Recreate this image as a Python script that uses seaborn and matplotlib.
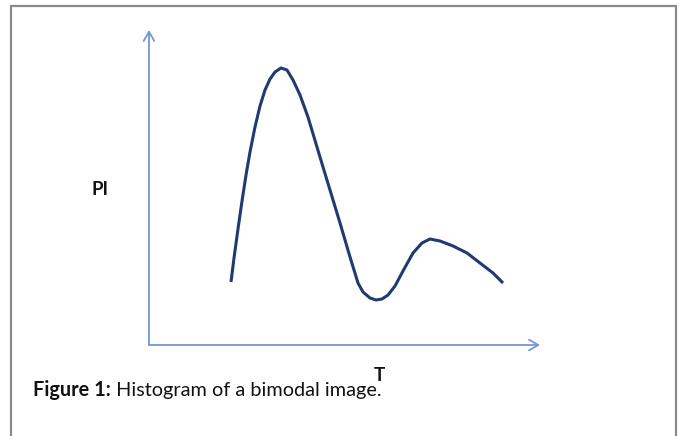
import matplotlib
matplotlib.use("Agg")
import numpy as np
import pandas as pd
import matplotlib.pyplot as plt
import matplotlib.patches as patches
import seaborn as sns

# curve (T on 0..100, PI on 0..100 along the drawn axes)
t_vals = [20.97, 21.74, 22.76, 23.79, 24.81, 25.83, 27.11, 28.39, 29.67, 30.95,
          32.23, 33.76, 35.29, 36.83, 38.62, 40.66, 43.73, 46.29, 48.85, 51.41,
          53.45, 54.73, 56.52, 58.06, 59.59, 61.13, 62.92, 64.96, 67.52, 69.82,
          71.87, 74.42, 77.75, 81.33, 84.65, 87.98, 90.54]
pi_vals = [20.0, 27.62, 36.83, 45.71, 53.97, 61.27, 69.21, 75.87, 80.95, 84.44,
           86.67, 87.94, 87.30, 84.13, 79.37, 72.38, 59.68, 49.21, 38.73, 27.94,
           19.68, 16.83, 14.92, 14.29, 14.60, 15.87, 18.73, 23.49, 29.21, 32.38,
           33.65, 33.02, 31.43, 29.21, 26.03, 22.86, 19.68]
x_label = "T"
y_label = "PI"
caption_bold = "Figure 1:"
caption_rest = " Histogram of a bimodal image."

sns.set_theme(style="white")
plt.rcParams['font.family'] = ['Lato', 'DejaVu Sans']

W, H = 682, 436
fig = plt.figure(figsize=(W / 100, H / 100), dpi=100)
ax = fig.add_axes([149 / W, (H - 345) / H, 391 / W, 315 / H])

df = pd.DataFrame({"T": t_vals, "PI": pi_vals})
sns.lineplot(data=df, x="T", y="PI", sort=False, color="#1f3b70", linewidth=2.2,
             ax=ax, solid_capstyle="butt", solid_joinstyle="round")

ax.set_xlim(0, 100)
ax.set_ylim(0, 100)
for s in ax.spines.values():
    s.set_visible(False)
ax.set_xticks([])
ax.set_yticks([])
ax.set_xlabel("")
ax.set_ylabel("")
ax.patch.set_alpha(0)

axis_col = "#7396d8"
arrow = dict(arrowstyle="->,head_length=0.55,head_width=0.32", color=axis_col,
             lw=1.3, shrinkA=0, shrinkB=0)
ax.annotate("", xy=(0, 1), xytext=(0, 0), xycoords="axes fraction", arrowprops=arrow,
            annotation_clip=False)
ax.annotate("", xy=(1, 0), xytext=(0, 0), xycoords="axes fraction", arrowprops=arrow,
            annotation_clip=False)

fig.text(100 / W, 1 - 195 / H, y_label, ha="center", va="baseline", fontsize=13.5,
         fontweight="bold", color="#111111")
fig.text(379 / W, 1 - 381 / H, x_label, ha="center", va="baseline", fontsize=13.5,
         fontweight="bold", color="#111111")

# caption with bold prefix
t1 = fig.text(33 / W, 1 - 396 / H, caption_bold, ha="left", va="baseline", fontsize=14.3,
              fontweight="bold", color="#111111")
fig.canvas.draw()
bb = t1.get_window_extent()
fig.text(bb.x1 / W, 1 - 396 / H, caption_rest, ha="left", va="baseline", fontsize=14.3,
         color="#111111")

# page frame
frame = patches.Rectangle((11 / W, -0.05), (676 - 11) / W, 1.05 - 6 / H,
                          transform=fig.transFigure, fill=False, edgecolor="#8a8a8a",
                          linewidth=1.6, clip_on=False)
fig.patches.append(frame)

fig.savefig("out.png", dpi=100)
